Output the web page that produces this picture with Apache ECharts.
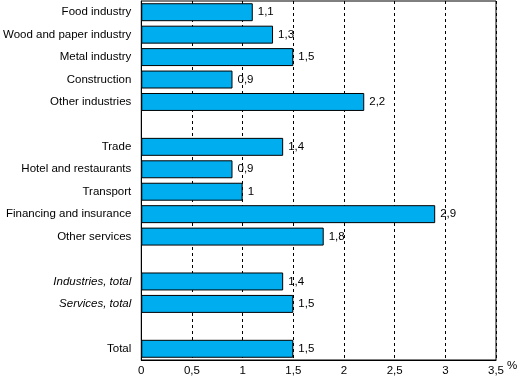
<!DOCTYPE html>
<html><head><meta charset="utf-8">
<script src="https://cdn.jsdelivr.net/npm/echarts@6/dist/echarts.min.js"></script>
<style>html,body{margin:0;padding:0;background:#fff}#c{width:527px;height:381px}</style>
</head><body><div id="c"></div>
<script>
var categories = ['Food industry','Wood and paper industry','Metal industry','Construction','Other industries','',
  'Trade','Hotel and restaurants','Transport','Financing and insurance','Other services',' ',
  'Industries, total','Services, total','  ','Total'];
var values = [1.1,1.3,1.5,0.9,2.2,null,1.4,0.9,1.0,2.9,1.8,null,1.4,1.5,null,1.5];
var italicCats = ['Industries, total','Services, total'];
var tickMin = 0, tickMax = 3.5, tickStep = 0.5;

var fmt = function(v){ return String(v).replace('.', ','); };
var chart = echarts.init(document.getElementById('c'), null, {renderer:'canvas'});
var font = 'Liberation Sans, Arial, sans-serif';
var fs = 11.5;
chart.setOption({
  animation:false,
  grid:{left:140,right:31,top:1,bottom:21,show:true,borderColor:'#000',borderWidth:1,containLabel:false},
  xAxis:{type:'value',min:tickMin,max:tickMax,interval:tickStep,
    axisLine:{show:true,lineStyle:{color:'#000',width:1}},
    axisTick:{show:false},
    axisLabel:{color:'#000',fontSize:fs,fontFamily:font,margin:5,formatter:fmt},
    splitLine:{show:true,lineStyle:{color:'#000',type:[3,3],width:1}}},
  yAxis:{type:'category',data:categories,inverse:true,
    axisLine:{show:true,lineStyle:{color:'#000'}},
    axisTick:{show:false},
    axisLabel:{color:'#000',fontSize:fs,fontFamily:font,margin:10,
      formatter:function(v){ return italicCats.indexOf(v)>=0 ? '{i|'+v+'}' : v; },
      rich:{i:{fontStyle:'italic',fontSize:fs,fontFamily:font,color:'#000'}}}},
  series:[{type:'bar',data:values.map(function(v){return v==null?'-':v;}),barCategoryGap:'20%',
    itemStyle:{color:'#00AEEF',borderColor:'#000',borderWidth:1},
    label:{show:true,position:'right',distance:5,color:'#000',fontSize:fs,fontFamily:font,
      formatter:function(p){return fmt(p.value);}}}],
  graphic:[{type:'text',left:507,top:360,style:{text:'%',fontSize:fs,fontFamily:font,fill:'#000'}}]
});
</script></body></html>
